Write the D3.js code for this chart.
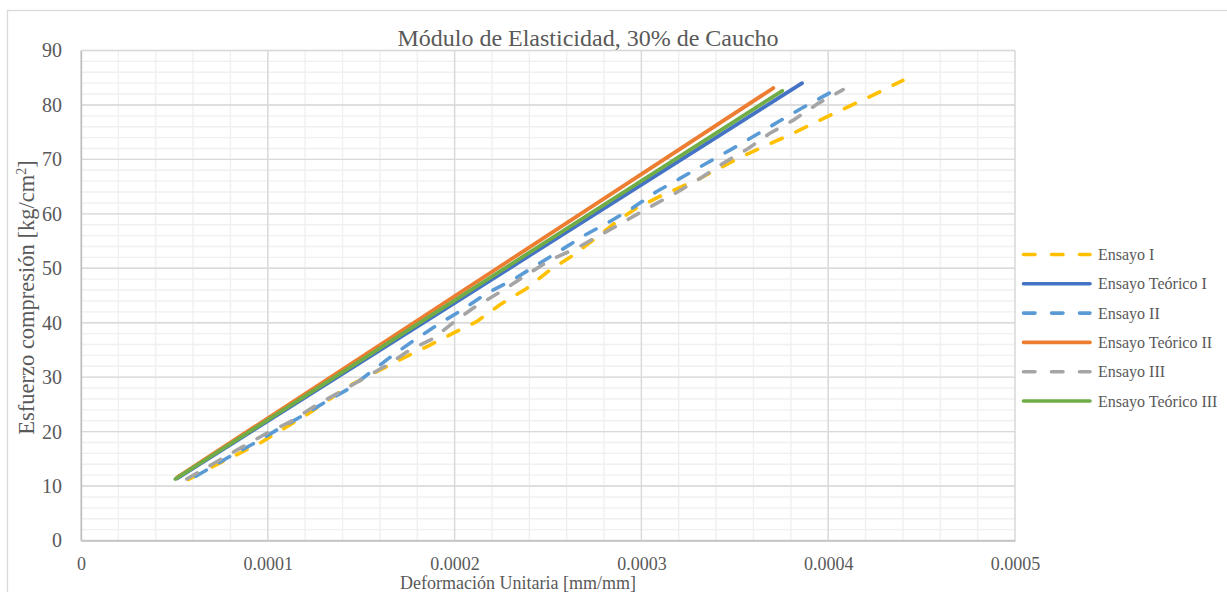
<!DOCTYPE html>
<html>
<head>
<meta charset="utf-8">
<script src="https://cdn.jsdelivr.net/npm/d3@7"></script>
<style>
  html, body { margin: 0; padding: 0; background: #fff; }
  svg { display: block; }
  text { font-family: "Liberation Serif", "Times New Roman", serif; fill: #595959; }
</style>
</head>
<body>
<svg id="chart" width="1227" height="592"></svg>
<script>
// Strain [mm/mm] and stress [kg/cm2] pairs for each test
const ensayoI = [
  [0.0000575, 11.2], [0.0000707, 13.6], [0.0000958, 17.9], [0.0001208, 23.1],
  [0.000144, 28.5], [0.0001583, 31.0], [0.0001708, 33.2], [0.0001868, 35.9],
  [0.0002011, 38.4], [0.0002118, 40.2], [0.0002243, 43.3], [0.0002386, 46.3],
  [0.0002511, 49.7], [0.0002636, 52.4], [0.0002743, 55.2], [0.0002868, 58.6],
  [0.0002975, 61.1], [0.0003117, 63.5], [0.0003296, 66.2], [0.0003519, 70.2],
  [0.0003671, 72.6], [0.0003813, 74.8], [0.0003938, 76.9], [0.0004072, 79.1],
  [0.000424, 81.8], [0.00044, 84.5]
];
const teoricoI = [[0.0000515, 11.4], [0.000386, 84.0]];
const ensayoII = [
  [0.0000615, 11.8], [0.000078, 15.1], [0.000094, 18.1], [0.0001048, 20.3],
  [0.000119, 23.0], [0.0001297, 25.2], [0.000144, 28.0], [0.0001565, 31.3],
  [0.0001672, 34.1], [0.0001797, 37.1], [0.0001922, 39.9], [0.0002047, 42.5],
  [0.0002172, 45.4], [0.0002314, 47.9], [0.0002439, 50.6], [0.0002573, 53.4],
  [0.0002698, 56.1], [0.0002832, 58.6], [0.000295, 61.0], [0.0003082, 64.1],
  [0.0003207, 66.5], [0.0003349, 69.3], [0.0003474, 71.7], [0.0003599, 74.2],
  [0.0003733, 76.9], [0.0003858, 79.4], [0.0004018, 82.4]
];
const teoricoII = [[0.0000515, 11.6], [0.0003706, 83.1]];
const ensayoIII = [
  [0.0000566, 11.3], [0.0000834, 16.6], [0.0000994, 19.7], [0.0001119, 21.8],
  [0.0001262, 24.9], [0.0001387, 27.3], [0.000153, 30.1], [0.0001637, 32.2],
  [0.0001761, 35.0], [0.0001886, 37.1], [0.0002011, 40.5], [0.00021, 42.7],
  [0.0002261, 46.0], [0.0002386, 48.8], [0.0002511, 51.5], [0.0002654, 53.7],
  [0.0002796, 56.4], [0.000293, 59.0], [0.0003064, 61.6], [0.0003198, 64.1],
  [0.0003314, 66.5], [0.0003438, 69.3], [0.0003572, 72.0], [0.0003688, 74.8],
  [0.0003813, 77.2], [0.0003947, 80.3], [0.000408, 82.8]
];
const teoricoIII = [[0.0000505, 11.3], [0.0003754, 82.6]];

const seriesNames = ["Ensayo I", "Ensayo Teórico I", "Ensayo II", "Ensayo Teórico II", "Ensayo III", "Ensayo Teórico III"];
const seriesData = [ensayoI, teoricoI, ensayoII, teoricoII, ensayoIII, teoricoIII];
const seriesColors = ["#FFC000", "#4472C4", "#5B9BD5", "#ED7D31", "#A5A5A5", "#70AD47"];
const seriesDashed = [true, false, true, false, true, false];

const xTicks = [0, 0.0001, 0.0002, 0.0003, 0.0004, 0.0005];
const xTickLabels = ["0", "0.0001", "0.0002", "0.0003", "0.0004", "0.0005"];
const yTicks = [0, 10, 20, 30, 40, 50, 60, 70, 80, 90];

const titleText = "Módulo de Elasticidad, 30% de Caucho";
const xTitle = "Deformación Unitaria [mm/mm]";

const svg = d3.select("#chart");
const plot = { left: 81, right: 1015, top: 50.5, bottom: 540.5 };

const x = d3.scaleLinear().domain([0, 0.0005]).range([plot.left, plot.right]);
const y = d3.scaleLinear().domain([0, 90]).range([plot.bottom, plot.top]);

// chart frame
svg.append("rect")
  .attr("x", 7.5).attr("y", 10.5)
  .attr("width", 1240).attr("height", 600)
  .attr("fill", "#fff").attr("stroke", "#d9d9d9").attr("stroke-width", 1.3);

// minor gridlines
const grid = svg.append("g");
const xMinor = d3.range(0, 0.0005 + 1e-9, 0.00002);
const yMinor = d3.range(0, 90.001, 2);
grid.selectAll(".xm").data(xMinor).join("line")
  .attr("x1", d => x(d)).attr("x2", d => x(d))
  .attr("y1", plot.top).attr("y2", plot.bottom)
  .attr("stroke", "#f0f0f0").attr("stroke-width", 1.4);
grid.selectAll(".ym").data(yMinor).join("line")
  .attr("x1", plot.left).attr("x2", plot.right)
  .attr("y1", d => y(d)).attr("y2", d => y(d))
  .attr("stroke", "#f0f0f0").attr("stroke-width", 1.4);

// major gridlines
grid.selectAll(".xM").data(xTicks).join("line")
  .attr("x1", d => x(d)).attr("x2", d => x(d))
  .attr("y1", plot.top).attr("y2", plot.bottom)
  .attr("stroke", "#d9d9d9").attr("stroke-width", 1.4);
grid.selectAll(".yM").data(yTicks).join("line")
  .attr("x1", plot.left).attr("x2", plot.right)
  .attr("y1", d => y(d)).attr("y2", d => y(d))
  .attr("stroke", "#d9d9d9").attr("stroke-width", 1.4);

// axes
const xAxis = d3.axisBottom(x).tickValues(xTicks)
  .tickFormat((d, i) => xTickLabels[i]).tickSize(0).tickPadding(17);
const gx = svg.append("g").attr("transform", `translate(0,${plot.bottom})`).call(xAxis);
gx.select(".domain").attr("stroke", "#bfbfbf").attr("stroke-width", 1.4);
gx.selectAll("text").style("font-size", "18px").attr("fill", "#595959")
  .style("font-family", '"Liberation Serif", serif');

const yAxis = d3.axisLeft(y).tickValues(yTicks).tickSize(0).tickPadding(19);
const gy = svg.append("g").attr("transform", `translate(${plot.left},0)`).call(yAxis);
gy.select(".domain").attr("stroke", "#bfbfbf").attr("stroke-width", 1.4);
gy.selectAll("text").style("font-size", "20px").attr("fill", "#595959")
  .style("font-family", '"Liberation Serif", serif');

// series
const line = d3.line().x(d => x(d[0])).y(d => y(d[1]));
const seriesG = svg.append("g");
seriesData.forEach((data, i) => {
  seriesG.append("path")
    .datum(data)
    .attr("d", line)
    .attr("fill", "none")
    .attr("stroke", seriesColors[i])
    .attr("stroke-width", seriesDashed[i] ? 3.6 : 3.8)
    .attr("stroke-linecap", "round")
    .attr("stroke-linejoin", "round")
    .attr("stroke-dasharray", seriesDashed[i] ? "12,15" : null);
});

// title
svg.append("text")
  .attr("x", 588).attr("y", 46)
  .attr("text-anchor", "middle")
  .style("font-size", "24px")
  .text(titleText);

// axis titles
svg.append("text")
  .attr("x", (plot.left + plot.right) / 2 - 30).attr("y", 589)
  .attr("text-anchor", "middle")
  .style("font-size", "18px")
  .text(xTitle);

const yt = svg.append("text")
  .attr("transform", `translate(34,${(plot.top + plot.bottom) / 2 + 2}) rotate(-90)`)
  .attr("text-anchor", "middle")
  .style("font-size", "22.5px");
yt.append("tspan").text("Esfuerzo compresión [kg/cm");
yt.append("tspan").attr("dy", -8).style("font-size", "14px").text("2");
yt.append("tspan").attr("dy", 8).text("]");

// legend
const legend = svg.append("g");
const legendY0 = 254.5, legendStep = 29.3;
seriesNames.forEach((name, i) => {
  const ly = legendY0 + i * legendStep;
  legend.append("line")
    .attr("x1", 1023.5).attr("x2", 1090)
    .attr("y1", ly).attr("y2", ly)
    .attr("stroke", seriesColors[i])
    .attr("stroke-width", 3.6)
    .attr("stroke-linecap", "round")
    .attr("stroke-dasharray", seriesDashed[i] ? "11.5,16.5" : null);
  legend.append("text")
    .attr("x", 1098).attr("y", ly + 5.5)
    .style("font-size", "16px")
    .text(name);
});
</script>
</body>
</html>
